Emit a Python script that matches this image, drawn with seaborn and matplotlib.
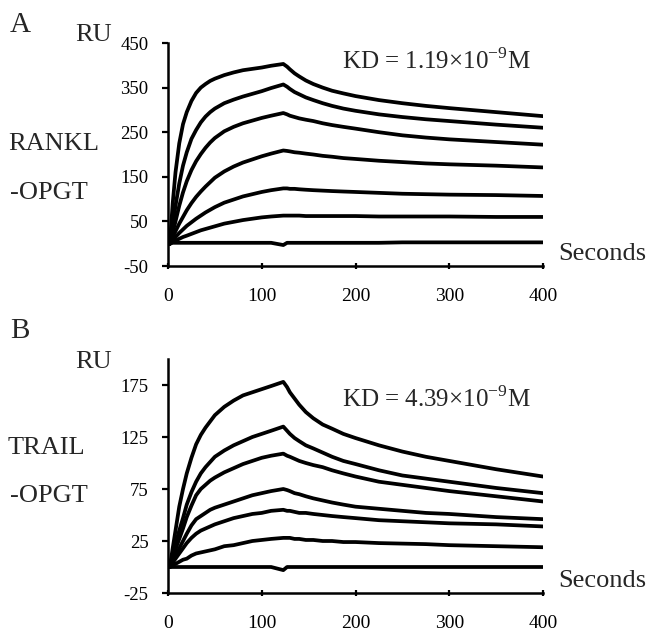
import numpy as np
import pandas as pd
import matplotlib
matplotlib.use("Agg")
import matplotlib.pyplot as plt
import seaborn as sns

# ---------------- data ----------------
time_s = [2, 5, 8, 12, 16, 20, 25, 30, 35, 40, 45, 50, 60, 70, 80, 90, 100, 110, 123,
          127, 130, 135, 140, 147, 155, 165, 175, 187, 200, 225, 250, 275, 300, 350, 400]

# Panel A: RANKL-OPGT, seven concentrations (highest first)
rankl_1 = [0, 90, 160, 225, 268, 295, 320, 338, 350, 358, 365, 370, 378, 384, 389, 392, 395, 399, 403,
           397, 391, 382, 375, 366, 358, 350, 343, 337, 331, 322, 315, 309, 304, 295, 286]
rankl_2 = [0, 40, 85, 135, 175, 205, 235, 255, 272, 285, 295, 303, 315, 323, 330, 336, 342, 349, 357,
           352, 347, 340, 335, 328, 322, 315, 309, 303, 298, 290, 284, 279, 275, 267, 260]
rankl_3 = [0, 25, 50, 85, 115, 140, 165, 185, 201, 215, 227, 237, 252, 262, 270, 276, 282, 287, 293,
           290, 287, 284, 281, 278, 275, 270, 266, 262, 258, 250, 243, 238, 234, 228, 222]
rankl_4 = [0, 15, 28, 45, 60, 75, 91, 105, 117, 128, 138, 148, 162, 173, 182, 189, 196, 202, 209,
           208, 207, 205, 204, 202, 200, 197, 195, 192, 190, 186, 183, 180, 178, 175, 171]
rankl_5 = [0, 8, 15, 24, 32, 40, 48, 56, 63, 70, 76, 82, 92, 99, 106, 111, 116, 120, 124,
           124, 123, 123, 122, 121, 120, 119, 118, 117, 116, 114, 112, 111, 110, 109, 107]
rankl_6 = [0, 4, 7, 11, 15, 18, 22, 26, 30, 33, 36, 39, 45, 49, 53, 56, 59, 61, 63,
           63, 63, 63, 63, 62, 62, 62, 62, 62, 62, 61, 61, 61, 61, 60, 60]
rankl_7 = [0, 2, 2, 2, 2, 2, 2, 2, 2, 2, 2, 2, 2, 2, 2, 2, 2, 2, -3,
           2, 2, 2, 2, 2, 2, 2, 2, 2, 2, 2, 3, 3, 3, 3, 3]

# Panel B: TRAIL-OPGT
trail_1 = [0, 18, 35, 58, 75, 90, 105, 118, 127, 134, 140, 146, 154, 160, 165, 168, 171, 174, 178,
           173, 168, 162, 156, 149, 143, 137, 133, 128, 124, 117, 111, 106, 102, 94, 87]
trail_2 = [0, 12, 22, 35, 47, 60, 72, 82, 90, 96, 101, 106, 112, 117, 121, 125, 128, 131, 135,
           131, 128, 124, 121, 117, 114, 110, 106, 102, 99, 93, 88, 85, 82, 76, 71]
trail_3 = [0, 9, 17, 27, 37, 48, 59, 69, 75, 79, 83, 86, 91, 95, 99, 102, 105, 107, 109,
           107, 106, 104, 102, 100, 98, 96, 93, 90, 87, 82, 79, 76, 73, 68, 63]
trail_4 = [0, 6, 11, 18, 25, 32, 40, 46, 49, 52, 55, 57, 60, 63, 66, 69, 71, 73, 75,
           74, 73, 71, 70, 68, 66, 64, 62, 60, 58, 56, 54, 52, 51, 48, 46]
trail_5 = [0, 4, 8, 13, 18, 23, 28, 32, 35, 37, 39, 41, 44, 47, 49, 51, 52, 54, 55,
           54, 54, 53, 52, 52, 51, 50, 49, 48, 47, 45, 44, 43, 42, 41, 39]
trail_6 = [0, 2, 3, 5, 7, 8, 11, 13, 14, 15, 16, 17, 20, 21, 23, 25, 26, 27, 28,
           28, 28, 27, 27, 26, 26, 25, 25, 24, 24, 23, 22.5, 22, 21, 20, 19]
trail_7 = [0, 0, 0, 0, 0, 0, 0, 0, 0, 0, 0, 0, 0, 0, 0, 0, 0, 0, -3,
           0, 0, 0, 0, 0, 0, 0, 0, 0, 0, 0, 0, 0, 0, 0, 0]

x_ticks = [0, 100, 200, 300, 400]
a_yticks = [-50, 50, 150, 250, 350, 450]
b_yticks = [-25, 25, 75, 125, 175]

panel_a = {"curves": [rankl_1, rankl_2, rankl_3, rankl_4, rankl_5, rankl_6, rankl_7]}
panel_b = {"curves": [trail_1, trail_2, trail_3, trail_4, trail_5, trail_6, trail_7]}


def to_long(curves):
    rows = []
    for i, c in enumerate(curves):
        for t, v in zip(time_s, c):
            rows.append({"Seconds": t, "RU": v, "curve": i})
    return pd.DataFrame(rows)


# ---------------- style ----------------
sns.set_theme(style="ticks")
plt.rcParams["font.family"] = ["Liberation Serif", "DejaVu Serif"]
plt.rcParams["mathtext.fontset"] = "custom"
plt.rcParams["mathtext.rm"] = "Liberation Serif"
plt.rcParams["axes.unicode_minus"] = False

W, H = 646, 634
fig = plt.figure(figsize=(W / 100, H / 100), dpi=100)
fig.patch.set_facecolor("white")


def px(x, y):
    return x / W, 1 - y / H


def make_axes(left, top, right, bottom):
    return fig.add_axes([left / W, 1 - bottom / H, (right - left) / W, (bottom - top) / H])


ax_a = make_axes(168, 43, 543, 266)
ax_b = make_axes(168, 359, 543, 593)

for ax, panel, ylim, yticks in [(ax_a, panel_a, (-50, 450), a_yticks),
                                (ax_b, panel_b, (-25, 200), b_yticks)]:
    df = to_long(panel["curves"])
    sns.lineplot(data=df, x="Seconds", y="RU", units="curve", estimator=None,
                 color="black", linewidth=2.7, ax=ax, legend=False,
                 solid_joinstyle="round", solid_capstyle="round")
    ax.set_xlim(0, 400)
    ax.set_ylim(*ylim)
    ax.set_xticks(x_ticks)
    ax.set_yticks(yticks)
    ax.set_xlabel("")
    ax.set_ylabel("")
    ax.set_facecolor("white")
    for s in ["top", "right"]:
        ax.spines[s].set_visible(False)
    for s in ["left", "bottom"]:
        ax.spines[s].set_linewidth(1.8)
        ax.spines[s].set_color("black")
    ax.tick_params(axis="y", direction="out", length=4, width=1.6,
                   labelsize=13.5, pad=10, colors="black")
    ax.tick_params(axis="x", direction="inout", length=5, width=1.6,
                   labelsize=14, pad=13, colors="black")

# ---------------- texts ----------------
big = 19

# panel A
fig.text(*px(10, 32), "A", fontsize=21, va="baseline", ha="left")
fig.text(*px(112, 41), "RU", fontsize=19, va="baseline", ha="right")
fig.text(*px(8, 150), "RANKL", fontsize=big, va="baseline", ha="left")
fig.text(*px(10, 199), "-OPGT", fontsize=big, va="baseline", ha="left")
fig.text(*px(342, 69), r"KD = 1.19×10$^{\mathregular{-9}}$M", fontsize=18,
         va="baseline", ha="left")
fig.text(*px(558, 260), "Seconds", fontsize=big, va="baseline", ha="left")

# panel B
fig.text(*px(10, 338), "B", fontsize=21, va="baseline", ha="left")
fig.text(*px(112, 368), "RU", fontsize=19, va="baseline", ha="right")
fig.text(*px(8, 454), "TRAIL", fontsize=big, va="baseline", ha="left")
fig.text(*px(10, 502), "-OPGT", fontsize=big, va="baseline", ha="left")
fig.text(*px(342, 407), r"KD = 4.39×10$^{\mathregular{-9}}$M", fontsize=18,
         va="baseline", ha="left")
fig.text(*px(558, 587), "Seconds", fontsize=big, va="baseline", ha="left")

fig.savefig("out.png", dpi=100, facecolor="white")
